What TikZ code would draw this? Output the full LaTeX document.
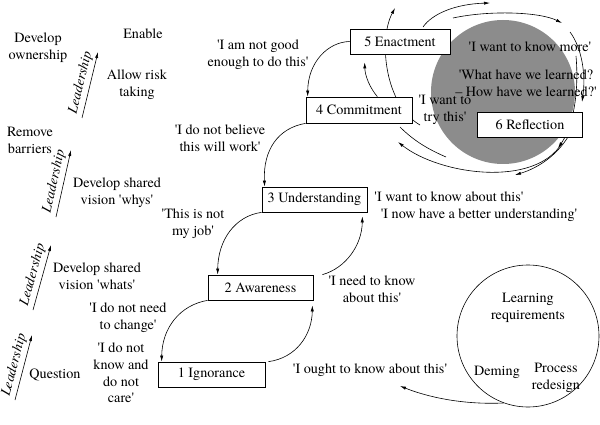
\documentclass[tikz,border=0pt]{standalone}
\usepackage{fontspec}
\setmainfont{texgyretermes}[Extension=.otf, UprightFont=*-regular, ItalicFont=*-italic, BoldFont=*-bold, BoldItalicFont=*-bolditalic]
\usetikzlibrary{arrows.meta}
\newcommand{\q}{\textquotesingle}
\begin{document}
\begin{tikzpicture}[x=1pt,y=-1pt,
  every node/.style={font=\fontsize{14.2}{16.7}\selectfont, inner sep=0pt},
  box/.style={draw, line width=0.7pt, fill=white, minimum height=25pt, inner sep=0pt},
  arr/.style={-{Latex[length=6pt,width=3.2pt]}, line width=0.6pt},
  ln/.style={line width=0.6pt},
  lbl/.style={align=center},
  lead/.style={sloped, above=3pt, font=\fontsize{14.2}{16.7}\selectfont\itshape}]
\useasboundingbox (0,0) rectangle (600,425);

% grey reflection disc
\fill[black!45] (503,92) circle[radius=72pt];

% spiral around the disc
\coordinate (s1a) at (420,125); \coordinate (s1b) at (395,8);
\coordinate (s2a) at (423,27);  \coordinate (s2b) at (490,3);
\coordinate (s3a) at (453,18);  \coordinate (s3b) at (562,23);
\coordinate (s4a) at (570,32);  \coordinate (s4b) at (582,102);
\coordinate (s5a) at (576,56);  \coordinate (s5b) at (558,148);
\coordinate (b1a) at (568,137); \coordinate (b1b) at (515,175);
\coordinate (b2a) at (562,143); \coordinate (b2b) at (398,142);
\coordinate (la) at (400,127);  \coordinate (lb) at (446,157);
\draw[arr] (s1a) .. controls (385,105) and (378,40) .. (s1b);
\draw[arr] (s2a) .. controls (432,14) and (455,4) .. (s2b);
\draw[arr] (s3a) .. controls (490,10) and (540,12) .. (s3b);
\draw[arr] (s4a) .. controls (582,48) and (586,75) .. (s4b);
\draw[arr] (s5a) .. controls (579,90) and (574,125) .. (s5b);
\draw[arr] (b1a) .. controls (556,156) and (538,168) .. (b1b);
\draw[arr] (b2a) .. controls (535,188) and (440,175) .. (b2b);
\draw[ln] (la) .. controls (415,142) and (430,150) .. (lb);

% stage boxes
\node[box, minimum width=100pt] (e) at (400,41.5) {5 Enactment};
\node[box, minimum width=106pt, minimum height=26pt] (c) at (359,110) {4 Commitment};
\node[box, minimum width=105pt] (r) at (530,124.5) {6 Reflection};
\node[box, minimum width=105pt] (u) at (314.5,199.5) {3 Understanding};
\node[box, minimum width=105pt] (a) at (260.5,287.5) {2 Awareness};
\node[box, minimum width=107pt] (g) at (211.5,374.5) {1 Ignorance};

% connectors between stages
\draw[arr] (e.west) .. controls (328,42) and (308,62) .. ([xshift=2pt]c.north west);
\draw[arr] (c.south west) .. controls (278,128) and (263,150) .. ([xshift=3pt]u.north west);
\draw[arr] (u.south west) .. controls (235,216) and (218,240) .. ([xshift=10pt]a.north west);
\draw[arr] (a.south west) .. controls (180,305) and (162,328) .. ([xshift=4pt]g.north west);
\draw[arr] ([xshift=3pt]g.north east) .. controls (296,358) and (312,335) .. ([xshift=-1pt,yshift=-5pt]a.south east);
\draw[arr] ([xshift=9pt]a.north east) .. controls (346,268) and (362,245) .. ([xshift=-5pt,yshift=-4pt]u.south east);
\draw[arr] ([xshift=-35pt]c.north east) .. controls (370,88) and (365,76) .. ([xshift=15pt,yshift=-8pt]e.south west);

% left-hand texts
\node[lbl] (t1) at (38,48) {Develop\\ownership};
\node (t2) at (143,34) {Enable};
\node[lbl] (t3) at (137,84.5) {Allow risk\\taking};
\node[lbl] (t4) at (30,140.5) {Remove\\barriers};
\node[lbl] (t5) at (117,192.5) {Develop shared\\vision \q whys\q};
\node[lbl] (t6) at (97,276.5) {Develop shared\\vision \q whats\q};
\node (t7) at (55,375) {Question};

% leadership arrows
\coordinate (l1s) at (82,118); \coordinate (l1e) at (98,52);
\coordinate (l2s) at (56,217); \coordinate (l2e) at (71,150);
\coordinate (l3s) at (33,310); \coordinate (l3e) at (51,245);
\coordinate (l4s) at (15,400); \coordinate (l4e) at (32,335);
\draw[arr] (l1s) -- node[lead] {Leadership} (l1e);
\draw[arr] (l2s) -- node[lead] {Leadership} (l2e);
\draw[arr] (l3s) -- node[lead] {Leadership} (l3e);
\draw[arr] (l4s) -- node[lead] {Leadership} (l4e);

% quotes
\node[lbl] (t8) at (258,55) {\q I am not good\\enough to do this\q};
\node[lbl] (t9) at (220,138.5) {\q I do not believe\\this will work\q};
\node[lbl] (t10) at (193,223.5) {\q This is not\\my job\q};
\node[lbl] (t11) at (128,317.5) {\q I do not need\\to change\q};
\node[lbl] (t12) at (121,373) {\q I do not\\know and\\do not\\care\q};
\node[lbl] (t13) at (372,289) {\q I need to know\\about this\q};
\node (t14) at (370,370) {\q I ought to know about this\q};
\node (t15) at (449,197) {\q I want to know about this\q};
\node (t16) at (479,215) {\q I now have a better understanding\q};
\node (t17) at (530,47) {\q I want to know more\q};
\node[lbl] (t18) at (526,83.5) {\q What have we learned?\\\textendash{} How have we learned?\q};
\node[lbl] (t19) at (445,110) {\q I want to\\try this\q};

% learning requirements circle
\node[draw, circle, minimum size=142pt, line width=0.6pt] (cir) at (528,336) {};
\node[lbl] (t20) at (528,308) {Learning\\requirements};
\node (t21) at (497,372) {Deming};
\node[lbl] (t22) at (556,378) {Process\\redesign};
\coordinate (q1) at (400,386);
\draw[arr] (cir.250) .. controls (460,405) and (425,396) .. (q1);
\end{tikzpicture}
\end{document}
